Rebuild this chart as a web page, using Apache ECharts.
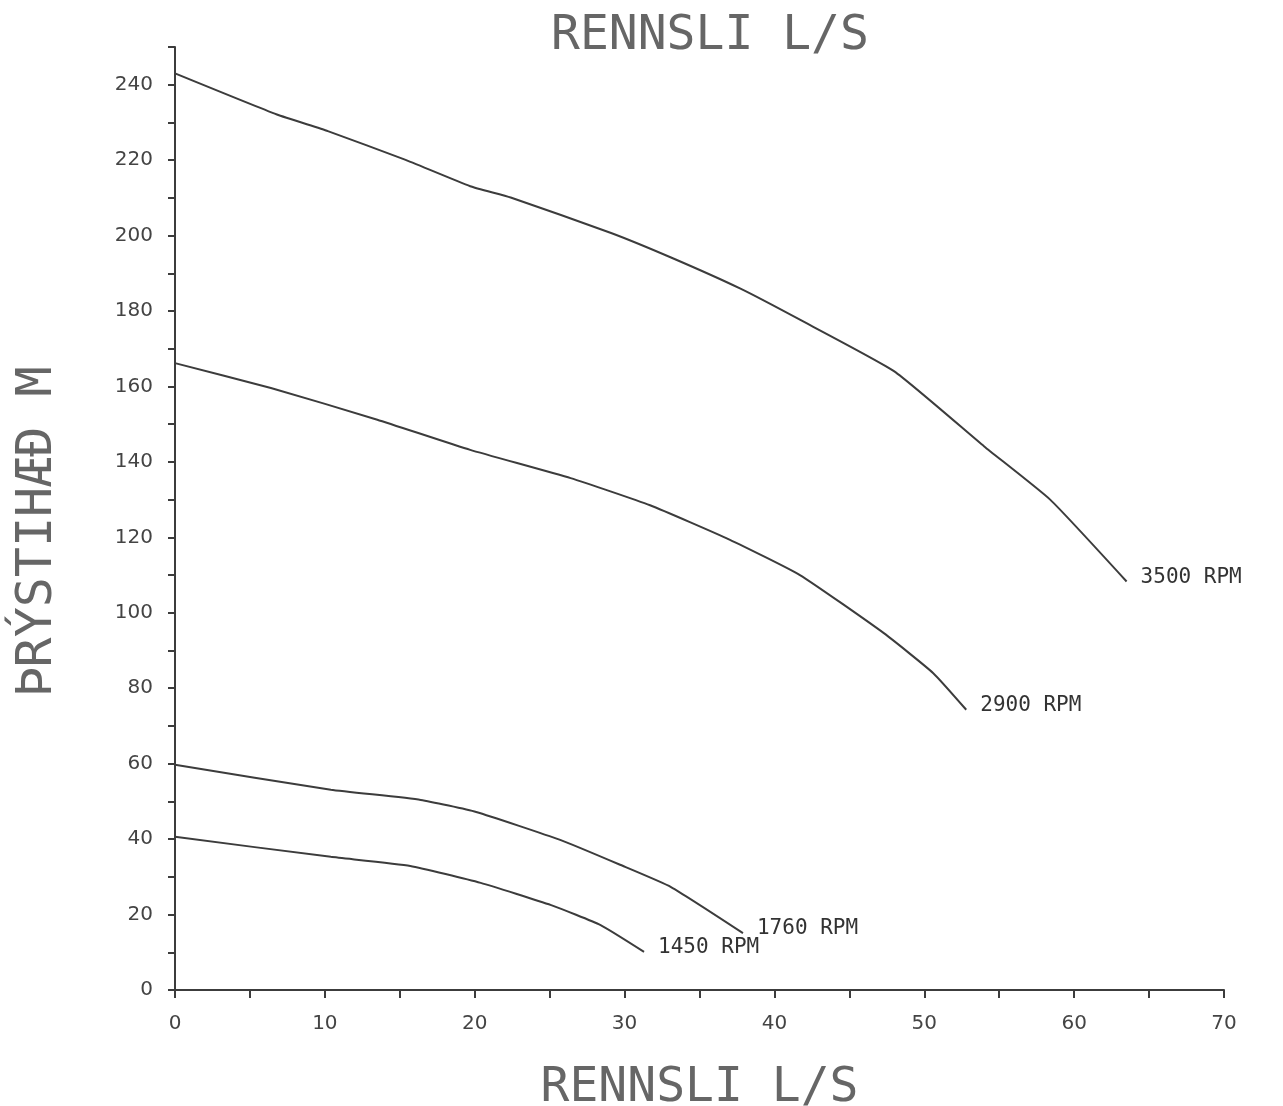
<!DOCTYPE html>
<html>
<head>
<meta charset="utf-8">
<script src="https://cdn.jsdelivr.net/npm/echarts@6/dist/echarts.min.js"></script>
<style>
html,body{margin:0;padding:0;background:#fff;}
#c{width:1283px;height:1106px;}
</style>
</head>
<body>
<div id="c"></div>
<script>
// Flow (L/S) and head (M)
const flow3500 = [0, 6.8, 10.2, 15.3, 19.7, 22.4, 29.1, 33.1, 37.7, 41.7, 48.0, 54.0, 58.4, 63.5];
const head3500 = [243, 232.1, 227.7, 220.2, 213.1, 210.1, 200.7, 194.2, 186.0, 177.7, 164.0, 144.1, 130.0, 108.3];

const flow2900 = [0, 6.4, 13.5, 19.7, 26.4, 31.7, 37.0, 41.7, 47.3, 50.6, 52.8];
const head2900 = [166.2, 159.6, 151.2, 143.2, 135.7, 128.5, 119.4, 110.0, 94.6, 84.0, 74.3];

const flow1760 = [0, 10.4, 16.4, 20.1, 25.7, 29.7, 33.1, 37.9];
const head1760 = [59.7, 53.1, 50.4, 47.2, 39.8, 33.2, 27.3, 15.1];

const flow1450 = [0, 10.4, 15.7, 20.4, 25.1, 28.4, 31.3];
const head1450 = [40.6, 35.3, 32.9, 28.4, 22.5, 17.2, 10.1];

const seriesNames = ['3500 RPM', '2900 RPM', '1760 RPM', '1450 RPM'];
const xTitle = 'RENNSLI L/S';
const yTitle = 'ÞRÝSTIHÆÐ M';
const topTitle = 'RENNSLI L/S';

const zip = (xs, ys) => xs.map((x, i) => [x, ys[i]]);
const sets = [zip(flow3500, head3500), zip(flow2900, head2900), zip(flow1760, head1760), zip(flow1450, head1450)];

const ink = '#3c3c3c';
const txt = '#444';
const titleCol = '#666';
const chart = echarts.init(document.getElementById('c'), null, {renderer: 'canvas'});
chart.setOption({
  backgroundColor: '#ffffff',
  animation: false,
  title: {
    text: topTitle,
    left: 546, top: 8,
    textStyle: {fontFamily: 'DejaVu Sans Mono', fontSize: 48, fontWeight: 'normal', color: titleCol}
  },
  graphic: [{
    type: 'text',
    x: 38, y: 532,
    rotation: Math.PI / 2,
    style: {
      text: yTitle, fontFamily: 'DejaVu Sans Mono', fontSize: 50, fill: titleCol,
      align: 'center', verticalAlign: 'middle'
    }
  }],
  grid: {left: 175, right: 59, top: 47, bottom: 116, containLabel: false, outerBoundsMode: 'none'},
  xAxis: {
    type: 'value', min: 0, max: 70, interval: 5,
    name: xTitle, nameLocation: 'middle', nameGap: 75,
    nameTextStyle: {fontFamily: 'DejaVu Sans Mono', fontSize: 48, color: titleCol},
    axisLine: {show: true, onZero: false, lineStyle: {color: ink, width: 2}},
    axisTick: {show: true, length: 8, lineStyle: {color: ink, width: 2}},
    axisLabel: {
      margin: 24, fontFamily: 'DejaVu Sans', fontSize: 20, color: txt,
      formatter: v => (v % 10 === 0 ? String(v) : '')
    },
    splitLine: {show: false}
  },
  yAxis: {
    type: 'value', min: 0, max: 250, interval: 10,
    axisLine: {show: true, onZero: false, lineStyle: {color: ink, width: 2}},
    axisTick: {show: true, length: 7, lineStyle: {color: ink, width: 2}},
    axisLabel: {
      margin: 22, fontFamily: 'DejaVu Sans', fontSize: 20, color: txt,
      formatter: v => (v % 20 === 0 ? String(v) : '')
    },
    splitLine: {show: false}
  },
  series: sets.map((d, i) => ({
    name: seriesNames[i],
    type: 'line',
    data: d,
    showSymbol: false,
    symbol: 'none',
    smooth: 0.15,
    lineStyle: {color: ink, width: 2},
    endLabel: {
      show: true, formatter: '{a}', distance: 14, offset: [0, -4],
      fontFamily: 'DejaVu Sans Mono', fontSize: 21, fontWeight: 'normal', color: '#333'
    }
  }))
});
</script>
</body>
</html>
